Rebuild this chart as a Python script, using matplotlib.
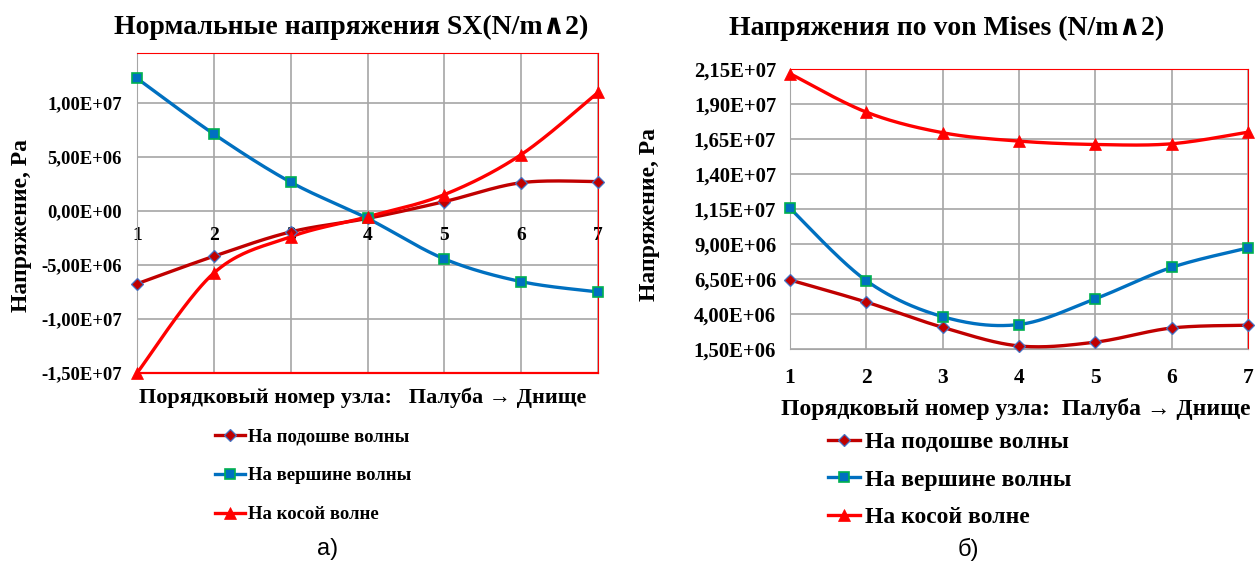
"""Два графика напряжений по узлам сечения: нормальные SX и по von Mises.

Линии сглажены так же, как «сглаженная линия» в Excel (кривые Безье
через точки узлов), маркеры стоят в самих узлах.
"""

import matplotlib
matplotlib.use("Agg")
import numpy as np
import matplotlib.pyplot as plt
from matplotlib.lines import Line2D
from matplotlib.ticker import FuncFormatter, FixedLocator

plt.rcParams["font.family"] = ["Liberation Serif", "DejaVu Serif"]
plt.rcParams["font.weight"] = "bold"

nodes = [1, 2, 3, 4, 5, 6, 7]

# а) нормальные напряжения SX, Па
sx_trough = [-6.75e6, -4.2e6, -1.95e6, -0.7e6, 0.85e6, 2.6e6, 2.7e6]
sx_crest = [12.25e6, 7.1e6, 2.65e6, -0.7e6, -4.45e6, -6.55e6, -7.5e6]
sx_oblique = [-15.0e6, -5.75e6, -2.4e6, -0.55e6, 1.5e6, 5.2e6, 10.95e6]
sx_ticks = [-1.5e7, -1.0e7, -5.0e6, 0.0, 5.0e6, 1.0e7]

# б) напряжения по von Mises, Па
vm_trough = [6.43e6, 4.85e6, 3.05e6, 1.72e6, 1.99e6, 3.0e6, 3.2e6]
vm_crest = [11.55e6, 6.38e6, 3.81e6, 3.25e6, 5.09e6, 7.33e6, 8.72e6]
vm_oblique = [21.17e6, 18.42e6, 16.95e6, 16.35e6, 16.11e6, 16.16e6, 16.99e6]
vm_ticks = [1.5e6, 4.0e6, 6.5e6, 9.0e6, 1.15e7, 1.4e7, 1.65e7, 1.9e7, 2.15e7]

series_labels = ["На подошве волны", "На вершине волны", "На косой волне"]

DARK_RED = "#C00000"
BLUE = "#0070C0"
RED = "#FF0000"
GRID = "#A6A6A6"

styles = [
    dict(color=DARK_RED, marker="D", markersize=6.5, markerfacecolor=DARK_RED,
         markeredgecolor="#4472C4", markeredgewidth=0.9),
    dict(color=BLUE, marker="s", markersize=6.5, markerfacecolor=BLUE,
         markeredgecolor="#00B050", markeredgewidth=1.2),
    dict(color=RED, marker="^", markersize=9, markerfacecolor=RED,
         markeredgecolor=RED, markeredgewidth=0.5),
]


def smooth(x, y, steps=40):
    """Кривая Безье через все точки, касательные как у Catmull-Rom (Excel)."""
    p = np.column_stack([x, y]).astype(float)
    ext = np.vstack([p[0], p, p[-1]])
    out = []
    t = np.linspace(0, 1, steps)[:, None]
    for i in range(len(p) - 1):
        p0, p3 = ext[i + 1], ext[i + 2]
        c1 = p0 + (ext[i + 2] - ext[i]) / 6
        c2 = p3 - (ext[i + 3] - ext[i + 1]) / 6
        seg = ((1 - t) ** 3) * p0 + 3 * ((1 - t) ** 2) * t * c1 \
            + 3 * (1 - t) * t ** 2 * c2 + t ** 3 * p3
        out.append(seg if i == 0 else seg[1:])
    out = np.vstack(out)
    return out[:, 0], out[:, 1]


def sci_comma(v, _pos):
    return f"{v:.2E}".replace(".", ",")


def draw_series(ax, data):
    for values, st in zip(data, styles):
        xs, ys = smooth(nodes, values)
        ax.plot(xs, ys, color=st["color"], lw=2.4, solid_capstyle="round",
                clip_on=False, zorder=3)
        ax.plot(nodes, values, ls="none", clip_on=False, zorder=4,
                **{k: v for k, v in st.items() if k != "color"})


def style_axes(ax, ticks, xsize, ysize, ypad):
    ax.set_xlim(1, 7)
    ax.set_xticks(nodes)
    ax.set_ylim(ticks[0], ax.get_ylim()[1])
    ax.yaxis.set_major_locator(FixedLocator(ticks))
    ax.yaxis.set_major_formatter(FuncFormatter(sci_comma))
    ax.grid(True, color=GRID, lw=1.2)
    ax.set_axisbelow(True)
    ax.tick_params(length=0)
    ax.tick_params(axis="x", labelsize=xsize)
    ax.tick_params(axis="y", labelsize=ysize, pad=ypad)
    ax.spines["left"].set_color(GRID)
    ax.spines["top"].set_color(RED)
    ax.spines["right"].set_color(RED)


def legend_handles():
    return [Line2D([], [], lw=2.4, **st) for st in styles]


fig = plt.figure(figsize=(12.55, 5.63), dpi=100)

# ---- а) нормальные напряжения ----
ax1 = fig.add_axes([0.1092, 0.3375, 0.3673, 0.5684])
draw_series(ax1, [sx_trough, sx_crest, sx_oblique])
ax1.set_ylim(-1.5e7, 1.46e7)
style_axes(ax1, sx_ticks, 14, 13.4, 11)
# подписи узлов идут вдоль нулевой линии
ax1.spines["bottom"].set_position(("data", 0))
ax1.spines["bottom"].set_visible(False)
ax1.tick_params(axis="x", pad=12)
ax1.axhline(-1.5e7, color=RED, lw=1.6, clip_on=False, zorder=2)
ax1.set_ylabel("Напряжение, Ра", fontsize=17, fontweight="bold")
ax1.yaxis.set_label_coords(-0.228, 0.46)
fig.text(0.280, 0.952, "Нормальные напряжения SX(N/m∧2)", ha="center",
         va="center", fontsize=20, fontweight="bold")
fig.text(0.289, 0.293, "Порядковый номер узла:   Палуба → Днище", ha="center",
         va="center", fontsize=16, fontweight="bold")
fig.legend(legend_handles(), series_labels, loc="upper left",
           bbox_to_anchor=(0.171, 0.239), frameon=False, fontsize=13.5,
           handlelength=1.6, handletextpad=0.2, labelspacing=1.16,
           borderaxespad=0, borderpad=0)
fig.text(0.261, 0.025, "а)", ha="center", va="center", fontsize=17,
         family=["Liberation Sans", "DejaVu Sans"], fontweight="normal")

# ---- б) напряжения по von Mises ----
ax2 = fig.add_axes([0.6295, 0.3801, 0.3649, 0.4973])
draw_series(ax2, [vm_trough, vm_crest, vm_oblique])
ax2.set_ylim(1.5e6, 2.15e7)
style_axes(ax2, vm_ticks, 15.5, 14.9, 10)
ax2.spines["bottom"].set_color(GRID)
ax2.tick_params(axis="x", pad=14)
ax2.set_ylabel("Напряжение, Ра", fontsize=17, fontweight="bold")
ax2.yaxis.set_label_coords(-0.285, 0.48)
fig.text(0.7546, 0.950, "Напряжения по von Mises (N/m∧2)", ha="center",
         va="center", fontsize=20, fontweight="bold")
fig.text(0.809, 0.274, "Порядковый номер узла:  Палуба → Днище", ha="center",
         va="center", fontsize=17, fontweight="bold")
fig.legend(legend_handles(), series_labels, loc="upper left",
           bbox_to_anchor=(0.660, 0.234), frameon=False, fontsize=17,
           handlelength=1.35, handletextpad=0.2, labelspacing=0.69,
           borderaxespad=0, borderpad=0)
fig.text(0.772, 0.025, "б)", ha="center", va="center", fontsize=17,
         family=["Liberation Sans", "DejaVu Sans"], fontweight="normal")

fig.savefig("out.png", dpi=100)
